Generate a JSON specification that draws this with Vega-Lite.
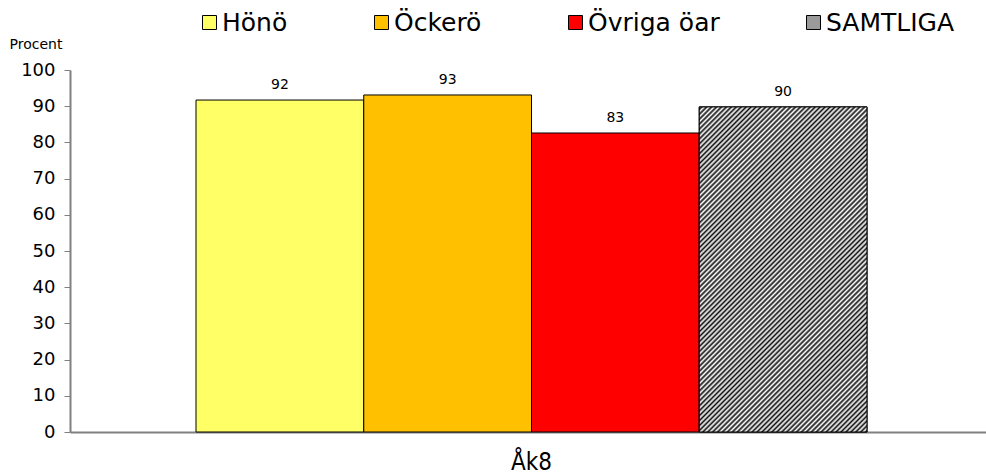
{
  "$schema": "https://vega.github.io/schema/vega-lite/v6.json",
  "autosize": "none",
  "width": 923,
  "height": 362,
  "padding": {"left": 70, "top": 70, "right": 0, "bottom": 44},
  "background": "white",
  "config": {"view": {"stroke": null}, "font": "DejaVu Sans"},
  "data": {"values": [
    {"grupp": "Åk8", "serie": "Hönö", "varde": 91.7},
    {"grupp": "Åk8", "serie": "Öckerö", "varde": 93.1},
    {"grupp": "Åk8", "serie": "Övriga öar", "varde": 82.6},
    {"grupp": "Åk8", "serie": "SAMTLIGA", "varde": 89.8}
  ]},
  "encoding": {
    "x": {"field": "grupp", "type": "nominal", "scale": {"paddingInner": 0, "paddingOuter": 0.1878},
      "axis": {"title": null, "labelAngle": 0, "labelFontSize": 24, "labelFont": "DejaVu Sans Condensed", "labelColor": "#000", "labelPadding": 18, "ticks": false, "domainColor": "#808080", "domainWidth": 2}},
    "xOffset": {"field": "serie", "type": "nominal", "sort": ["Hönö", "Öckerö", "Övriga öar", "SAMTLIGA"], "scale": {"paddingInner": 0, "paddingOuter": 0}},
    "y": {"field": "varde", "type": "quantitative", "scale": {"domain": [0, 100]},
      "axis": {"title": "Procent", "titleAngle": 0, "titleAlign": "left", "titleBaseline": "middle", "titleX": -61, "titleY": -26, "titleFontSize": 14, "titleFontWeight": "normal", "titleColor": "#000",
        "values": [0, 10, 20, 30, 40, 50, 60, 70, 80, 90, 100], "grid": false, "labelFontSize": 18, "labelColor": "#000", "labelPadding": 9, "tickColor": "#808080", "tickSize": 6, "domainColor": "#808080", "domainWidth": 2}}
  },
  "layer": [
    {
      "mark": {"type": "bar", "stroke": "#000", "strokeWidth": 1},
      "encoding": {
        "color": {"field": "serie", "type": "nominal", "sort": ["Hönö", "Öckerö", "Övriga öar", "SAMTLIGA"],
          "scale": {"domain": ["Hönö", "Öckerö", "Övriga öar", "SAMTLIGA"], "range": ["#FFFF66", "#FFC000", "#FF0000", "#9a9a9a"]},
          "legend": {"title": null, "orient": "none", "direction": "horizontal", "columns": 4, "gridAlign": "none", "legendX": 127, "legendY": -60, "symbolType": "square", "symbolSize": 196, "symbolStrokeColor": "#000", "symbolStrokeWidth": 1, "labelFontSize": 25, "labelColor": "#000", "labelOffset": 0, "columnPadding": 81, "labelLimit": 300}}
      }
    },
    {
      "transform": [{"filter": "datum.serie === 'SAMTLIGA'"}],
      "mark": {"type": "bar", "stroke": "#000", "strokeWidth": 1, "fill": {"gradient": "linear", "x1": 0, "y1": 0, "x2": 0.62, "y2": 1.2, "stops": [
        {"offset": 0, "color": "#fff"}, {"offset": 0.005, "color": "#111"}, {"offset": 0.01, "color": "#fff"}, {"offset": 0.015, "color": "#111"},
        {"offset": 0.02, "color": "#fff"}, {"offset": 0.025, "color": "#111"}, {"offset": 0.03, "color": "#fff"}, {"offset": 0.035, "color": "#111"},
        {"offset": 0.04, "color": "#fff"}, {"offset": 0.045, "color": "#111"}, {"offset": 0.05, "color": "#fff"}, {"offset": 0.055, "color": "#111"},
        {"offset": 0.06, "color": "#fff"}, {"offset": 0.065, "color": "#111"}, {"offset": 0.07, "color": "#fff"}, {"offset": 0.075, "color": "#111"},
        {"offset": 0.08, "color": "#fff"}, {"offset": 0.085, "color": "#111"}, {"offset": 0.09, "color": "#fff"}, {"offset": 0.095, "color": "#111"},
        {"offset": 0.10, "color": "#fff"}, {"offset": 0.105, "color": "#111"}, {"offset": 0.11, "color": "#fff"}, {"offset": 0.115, "color": "#111"},
        {"offset": 0.12, "color": "#fff"}, {"offset": 0.125, "color": "#111"}, {"offset": 0.13, "color": "#fff"}, {"offset": 0.135, "color": "#111"},
        {"offset": 0.14, "color": "#fff"}, {"offset": 0.145, "color": "#111"}, {"offset": 0.15, "color": "#fff"}, {"offset": 0.155, "color": "#111"},
        {"offset": 0.16, "color": "#fff"}, {"offset": 0.165, "color": "#111"}, {"offset": 0.17, "color": "#fff"}, {"offset": 0.175, "color": "#111"},
        {"offset": 0.18, "color": "#fff"}, {"offset": 0.185, "color": "#111"}, {"offset": 0.19, "color": "#fff"}, {"offset": 0.195, "color": "#111"},
        {"offset": 0.20, "color": "#fff"}, {"offset": 0.205, "color": "#111"}, {"offset": 0.21, "color": "#fff"}, {"offset": 0.215, "color": "#111"},
        {"offset": 0.22, "color": "#fff"}, {"offset": 0.225, "color": "#111"}, {"offset": 0.23, "color": "#fff"}, {"offset": 0.235, "color": "#111"},
        {"offset": 0.24, "color": "#fff"}, {"offset": 0.245, "color": "#111"}, {"offset": 0.25, "color": "#fff"}, {"offset": 0.255, "color": "#111"},
        {"offset": 0.26, "color": "#fff"}, {"offset": 0.265, "color": "#111"}, {"offset": 0.27, "color": "#fff"}, {"offset": 0.275, "color": "#111"},
        {"offset": 0.28, "color": "#fff"}, {"offset": 0.285, "color": "#111"}, {"offset": 0.29, "color": "#fff"}, {"offset": 0.295, "color": "#111"},
        {"offset": 0.30, "color": "#fff"}, {"offset": 0.305, "color": "#111"}, {"offset": 0.31, "color": "#fff"}, {"offset": 0.315, "color": "#111"},
        {"offset": 0.32, "color": "#fff"}, {"offset": 0.325, "color": "#111"}, {"offset": 0.33, "color": "#fff"}, {"offset": 0.335, "color": "#111"},
        {"offset": 0.34, "color": "#fff"}, {"offset": 0.345, "color": "#111"}, {"offset": 0.35, "color": "#fff"}, {"offset": 0.355, "color": "#111"},
        {"offset": 0.36, "color": "#fff"}, {"offset": 0.365, "color": "#111"}, {"offset": 0.37, "color": "#fff"}, {"offset": 0.375, "color": "#111"},
        {"offset": 0.38, "color": "#fff"}, {"offset": 0.385, "color": "#111"}, {"offset": 0.39, "color": "#fff"}, {"offset": 0.395, "color": "#111"},
        {"offset": 0.40, "color": "#fff"}, {"offset": 0.405, "color": "#111"}, {"offset": 0.41, "color": "#fff"}, {"offset": 0.415, "color": "#111"},
        {"offset": 0.42, "color": "#fff"}, {"offset": 0.425, "color": "#111"}, {"offset": 0.43, "color": "#fff"}, {"offset": 0.435, "color": "#111"},
        {"offset": 0.44, "color": "#fff"}, {"offset": 0.445, "color": "#111"}, {"offset": 0.45, "color": "#fff"}, {"offset": 0.455, "color": "#111"},
        {"offset": 0.46, "color": "#fff"}, {"offset": 0.465, "color": "#111"}, {"offset": 0.47, "color": "#fff"}, {"offset": 0.475, "color": "#111"},
        {"offset": 0.48, "color": "#fff"}, {"offset": 0.485, "color": "#111"}, {"offset": 0.49, "color": "#fff"}, {"offset": 0.495, "color": "#111"},
        {"offset": 0.50, "color": "#fff"}, {"offset": 0.505, "color": "#111"}, {"offset": 0.51, "color": "#fff"}, {"offset": 0.515, "color": "#111"},
        {"offset": 0.52, "color": "#fff"}, {"offset": 0.525, "color": "#111"}, {"offset": 0.53, "color": "#fff"}, {"offset": 0.535, "color": "#111"},
        {"offset": 0.54, "color": "#fff"}, {"offset": 0.545, "color": "#111"}, {"offset": 0.55, "color": "#fff"}, {"offset": 0.555, "color": "#111"},
        {"offset": 0.56, "color": "#fff"}, {"offset": 0.565, "color": "#111"}, {"offset": 0.57, "color": "#fff"}, {"offset": 0.575, "color": "#111"},
        {"offset": 0.58, "color": "#fff"}, {"offset": 0.585, "color": "#111"}, {"offset": 0.59, "color": "#fff"}, {"offset": 0.595, "color": "#111"},
        {"offset": 0.60, "color": "#fff"}, {"offset": 0.605, "color": "#111"}, {"offset": 0.61, "color": "#fff"}, {"offset": 0.615, "color": "#111"},
        {"offset": 0.62, "color": "#fff"}, {"offset": 0.625, "color": "#111"}, {"offset": 0.63, "color": "#fff"}, {"offset": 0.635, "color": "#111"},
        {"offset": 0.64, "color": "#fff"}, {"offset": 0.645, "color": "#111"}, {"offset": 0.65, "color": "#fff"}, {"offset": 0.655, "color": "#111"},
        {"offset": 0.66, "color": "#fff"}, {"offset": 0.665, "color": "#111"}, {"offset": 0.67, "color": "#fff"}, {"offset": 0.675, "color": "#111"},
        {"offset": 0.68, "color": "#fff"}, {"offset": 0.685, "color": "#111"}, {"offset": 0.69, "color": "#fff"}, {"offset": 0.695, "color": "#111"},
        {"offset": 0.70, "color": "#fff"}, {"offset": 0.705, "color": "#111"}, {"offset": 0.71, "color": "#fff"}, {"offset": 0.715, "color": "#111"},
        {"offset": 0.72, "color": "#fff"}, {"offset": 0.725, "color": "#111"}, {"offset": 0.73, "color": "#fff"}, {"offset": 0.735, "color": "#111"},
        {"offset": 0.74, "color": "#fff"}, {"offset": 0.745, "color": "#111"}, {"offset": 0.75, "color": "#fff"}, {"offset": 0.755, "color": "#111"},
        {"offset": 0.76, "color": "#fff"}, {"offset": 0.765, "color": "#111"}, {"offset": 0.77, "color": "#fff"}, {"offset": 0.775, "color": "#111"},
        {"offset": 0.78, "color": "#fff"}, {"offset": 0.785, "color": "#111"}, {"offset": 0.79, "color": "#fff"}, {"offset": 0.795, "color": "#111"},
        {"offset": 0.80, "color": "#fff"}, {"offset": 0.805, "color": "#111"}, {"offset": 0.81, "color": "#fff"}, {"offset": 0.815, "color": "#111"},
        {"offset": 0.82, "color": "#fff"}, {"offset": 0.825, "color": "#111"}, {"offset": 0.83, "color": "#fff"}, {"offset": 0.835, "color": "#111"},
        {"offset": 0.84, "color": "#fff"}, {"offset": 0.845, "color": "#111"}, {"offset": 0.85, "color": "#fff"}, {"offset": 0.855, "color": "#111"},
        {"offset": 0.86, "color": "#fff"}, {"offset": 0.865, "color": "#111"}, {"offset": 0.87, "color": "#fff"}, {"offset": 0.875, "color": "#111"},
        {"offset": 0.88, "color": "#fff"}, {"offset": 0.885, "color": "#111"}, {"offset": 0.89, "color": "#fff"}, {"offset": 0.895, "color": "#111"},
        {"offset": 0.90, "color": "#fff"}, {"offset": 0.905, "color": "#111"}, {"offset": 0.91, "color": "#fff"}, {"offset": 0.915, "color": "#111"},
        {"offset": 0.92, "color": "#fff"}, {"offset": 0.925, "color": "#111"}, {"offset": 0.93, "color": "#fff"}, {"offset": 0.935, "color": "#111"},
        {"offset": 0.94, "color": "#fff"}, {"offset": 0.945, "color": "#111"}, {"offset": 0.95, "color": "#fff"}, {"offset": 0.955, "color": "#111"},
        {"offset": 0.96, "color": "#fff"}, {"offset": 0.965, "color": "#111"}, {"offset": 0.97, "color": "#fff"}, {"offset": 0.975, "color": "#111"},
        {"offset": 0.98, "color": "#fff"}, {"offset": 0.985, "color": "#111"}, {"offset": 0.99, "color": "#fff"}, {"offset": 0.995, "color": "#111"},
        {"offset": 1, "color": "#fff"}
      ]}}
    },
    {
      "mark": {"type": "text", "dy": -15, "fontSize": 14, "color": "#000"},
      "encoding": {"text": {"field": "varde", "type": "quantitative", "format": ".0f"}}
    }
  ]
}
